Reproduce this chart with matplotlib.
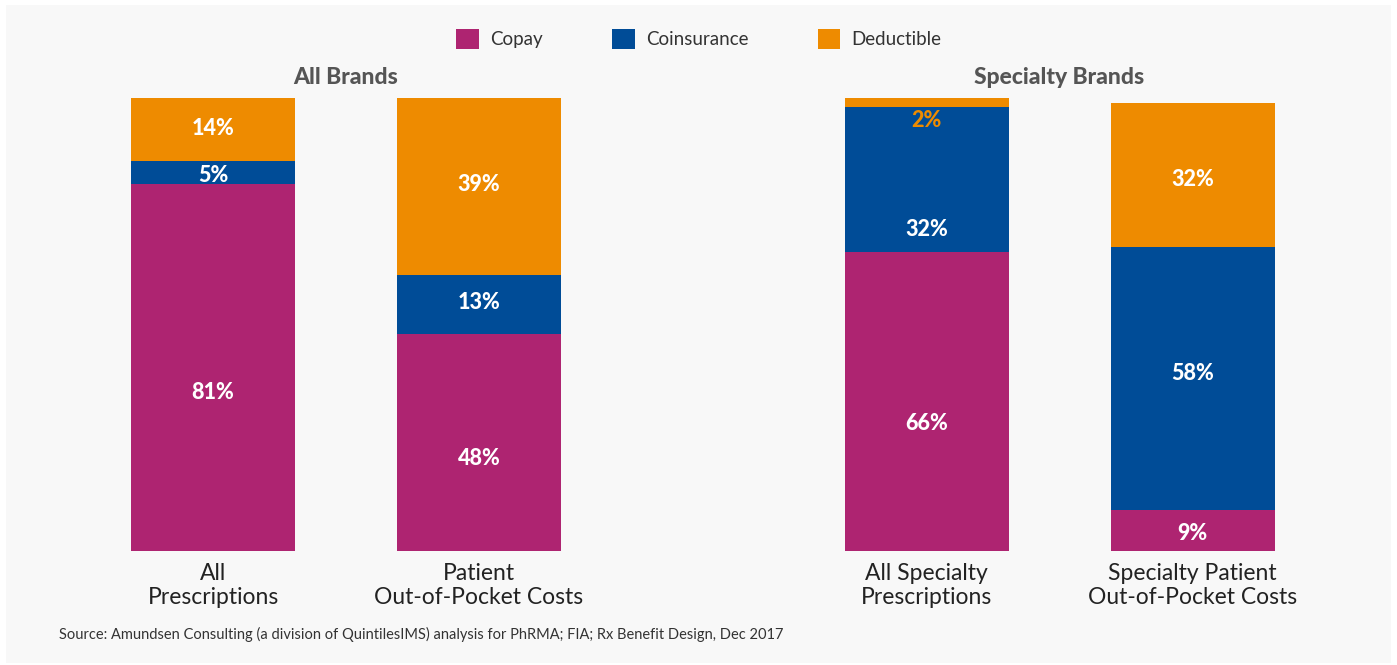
import matplotlib
matplotlib.use("Agg")
import matplotlib.pyplot as plt
from matplotlib.patches import Patch, Rectangle
from matplotlib.transforms import offset_copy

plt.rcParams['font.family'] = ['Lato', 'DejaVu Sans']

# Data
segments = ["Copay", "Coinsurance", "Deductible"]
colors = ["#ae2471", "#004c97", "#ee8b00"]

group_titles = ["All Brands", "Specialty Brands"]
all_brands_cats = ["All\nPrescriptions", "Patient\nOut-of-Pocket Costs"]
specialty_cats = ["All Specialty\nPrescriptions", "Specialty Patient\nOut-of-Pocket Costs"]

all_brands_copay = [81, 48]
all_brands_coins = [5, 13]
all_brands_deduct = [14, 39]

specialty_copay = [66, 9]
specialty_coins = [32, 58]
specialty_deduct = [2, 32]

source = "Source: Amundsen Consulting (a division of QuintilesIMS) analysis for PhRMA; FIA; Rx Benefit Design, Dec 2017"

# Vertical nudges (in points, negative = down) for the value labels,
# per bar and per segment (copay, coinsurance, deductible)
all_brands_nudge = [(-18, -2, 1), (-12, 1, 1)]
specialty_nudge = [(-16, -36, 0), (-2, 4, -3)]

W, H = 1397, 665
fig = plt.figure(figsize=(W / 100, H / 100), dpi=100)
fig.patch.set_facecolor("white")
fig.add_artist(Rectangle((6 / W, 2 / H), (W - 12) / W, (H - 7) / H,
                         transform=fig.transFigure, facecolor="#f8f8f8",
                         edgecolor="none", zorder=-10))

bottom_px, top_px = 551, 98
ax_h = (bottom_px - top_px) / H
ax_y = (H - bottom_px) / H
unit = 266
bar_w = 164 / unit
label_kw = dict(ha="center", va="center", fontsize=15.5, fontweight=900)


def draw_group(ax, cats, copay, coins, deduct, title, nudge):
    ax.set_facecolor("none")
    x = list(range(len(cats)))
    b1 = copay
    b2 = [a + b for a, b in zip(copay, coins)]
    ax.bar(x, copay, width=bar_w, color=colors[0])
    ax.bar(x, coins, width=bar_w, bottom=b1, color=colors[1])
    ax.bar(x, deduct, width=bar_w, bottom=b2, color=colors[2])
    for i in x:
        dy = nudge[i]
        ax.text(i, copay[i] / 2, f"{copay[i]}%", color="white",
                transform=offset_copy(ax.transData, fig=fig, y=dy[0], units="points"),
                **label_kw)
        ax.text(i, b1[i] + coins[i] / 2, f"{coins[i]}%", color="white",
                transform=offset_copy(ax.transData, fig=fig, y=dy[1], units="points"),
                **label_kw)
        if deduct[i] >= 5:
            ax.text(i, b2[i] + deduct[i] / 2, f"{deduct[i]}%", color="white",
                    transform=offset_copy(ax.transData, fig=fig, y=dy[2], units="points"),
                    **label_kw)
        else:
            # thin segment: label sits just under it, in the segment colour
            ax.text(i, b2[i], f"{deduct[i]}%", color=colors[2],
                    transform=offset_copy(ax.transData, fig=fig, y=-10, units="points"),
                    **label_kw)
    ax.set_xlim(-0.5, 1.5)
    ax.set_ylim(0, 100)
    ax.set_xticks(x)
    ax.set_xticklabels(cats, fontsize=16.5, color="#222222", linespacing=1.15)
    ax.tick_params(axis="x", length=0, pad=9)
    ax.set_yticks([])
    for s in ax.spines.values():
        s.set_visible(False)
    ax.set_title(title, fontsize=16.5, fontweight=900, color="#555555", pad=10)


ax1 = fig.add_axes([(213 - unit / 2) / W, ax_y, 2 * unit / W, ax_h])
ax2 = fig.add_axes([(926.5 - unit / 2) / W, ax_y, 2 * unit / W, ax_h])
draw_group(ax1, all_brands_cats, all_brands_copay, all_brands_coins,
           all_brands_deduct, group_titles[0], all_brands_nudge)
draw_group(ax2, specialty_cats, specialty_copay, specialty_coins,
           specialty_deduct, group_titles[1], specialty_nudge)

handles = [Patch(facecolor=c, edgecolor="none") for c in colors]
fig.legend(handles, segments, loc="center", bbox_to_anchor=(699 / W, 1 - 39 / H),
           ncol=3, frameon=False, fontsize=13.5, handlelength=1.2, handleheight=1.25,
           handletextpad=0.6, columnspacing=3.7, labelcolor="#333333")

fig.text(59 / W, 1 - 634 / H, source, fontsize=10.5, color="#333333",
         ha="left", va="center")

fig.savefig("out.png", dpi=100, facecolor=fig.get_facecolor())
